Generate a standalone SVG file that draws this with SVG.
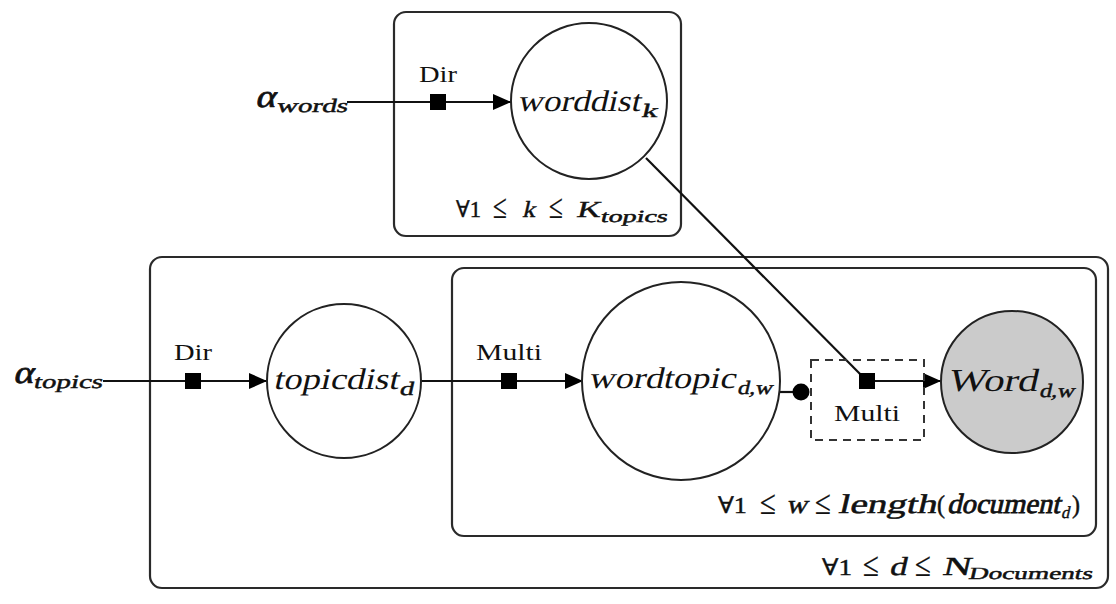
<svg xmlns="http://www.w3.org/2000/svg" width="1116" height="604" viewBox="0 0 1116 604">
<style>
.plate{fill:none;stroke:#2a2a2a;stroke-width:2.2}
.node{fill:#fff;stroke:#222;stroke-width:2}
.obs{fill:#cbcbcb;stroke:#222;stroke-width:2}
.edge{fill:none;stroke:#111;stroke-width:2.2}
.fac{fill:#000}
.gate{fill:none;stroke:#333;stroke-width:2;stroke-dasharray:8 6}
text{font-family:"Liberation Serif","DejaVu Serif",serif;fill:#111}
.m{font-size:30px}
.s{font-size:19px;stroke:#111;stroke-width:0.45}
.r{font-size:24px;text-anchor:middle}
.p{font-size:23px;stroke:#111;stroke-width:0.4}
.q{font-size:23px;stroke:#111;stroke-width:0.4}
.le{font-size:34px;stroke:#111;stroke-width:0.2}
.w{font-size:26px;stroke:#111;stroke-width:0.5}
.ps{font-size:17px;stroke:#111;stroke-width:0.45}
.a{font-size:32px;stroke:#111;stroke-width:0.7}
</style>
<defs>
<marker id="arr" viewBox="0 0 18 16" refX="18" refY="8" markerWidth="18" markerHeight="16" orient="auto" markerUnits="userSpaceOnUse">
<path d="M0,0 L18,8 L0,16 z" fill="#000"/>
</marker>
</defs>

<g id="plate-topics">
<rect class="plate" x="394" y="12" width="287" height="224" rx="12"/>
<text class="q" x="456" y="217" textLength="25" lengthAdjust="spacingAndGlyphs">∀1</text>
<text class="le" x="493" y="218" textLength="14" lengthAdjust="spacingAndGlyphs">≤</text>
<text class="p" transform="translate(522,217) skewX(-13)" textLength="13" lengthAdjust="spacingAndGlyphs">k</text>
<text class="le" x="549" y="218" textLength="14" lengthAdjust="spacingAndGlyphs">≤</text>
<text class="p" transform="translate(576,217) skewX(-13)" textLength="24" lengthAdjust="spacingAndGlyphs">K</text>
<text class="ps" transform="translate(600,222) skewX(-13)" textLength="67" lengthAdjust="spacingAndGlyphs">topics</text>
</g>

<g id="plate-documents">
<rect class="plate" x="150" y="257" width="958" height="331" rx="12"/>
<text class="q" x="822" y="575" textLength="30" lengthAdjust="spacingAndGlyphs">∀1</text>
<text class="le" x="863" y="576" textLength="16" lengthAdjust="spacingAndGlyphs">≤</text>
<text class="w" transform="translate(889,575) skewX(-13)" textLength="17" lengthAdjust="spacingAndGlyphs">d</text>
<text class="le" x="915" y="576" textLength="16" lengthAdjust="spacingAndGlyphs">≤</text>
<text class="w" transform="translate(942,575) skewX(-13)" textLength="28" lengthAdjust="spacingAndGlyphs">N</text>
<text class="ps" transform="translate(968,579) skewX(-13)" textLength="124" lengthAdjust="spacingAndGlyphs">Documents</text>
</g>

<g id="plate-words">
<rect class="plate" x="452" y="268" width="644" height="268" rx="12"/>
<text class="q" x="718" y="513" textLength="29" lengthAdjust="spacingAndGlyphs">∀1</text>
<text class="le" x="760" y="514" textLength="16" lengthAdjust="spacingAndGlyphs">≤</text>
<text class="w" transform="translate(786,513) skewX(-13)" textLength="21" lengthAdjust="spacingAndGlyphs">w</text>
<text class="le" x="815" y="514" textLength="16" lengthAdjust="spacingAndGlyphs">≤</text>
<text class="w" transform="translate(838,513) skewX(-13)" style="font-size:27px" textLength="98" lengthAdjust="spacingAndGlyphs">length</text>
<text class="w" x="937" y="513" textLength="8" lengthAdjust="spacingAndGlyphs">(</text>
<text class="w" transform="translate(947,513) skewX(-13)" style="font-size:28px;stroke-width:0.8" textLength="113" lengthAdjust="spacingAndGlyphs">document</text>
<text class="ps" transform="translate(1061,518) skewX(-13)" textLength="8" lengthAdjust="spacingAndGlyphs">d</text>
<text class="w" x="1072" y="513" textLength="8" lengthAdjust="spacingAndGlyphs">)</text>
</g>

<g id="connectors">
<line class="edge" x1="347" y1="102" x2="511" y2="102" marker-end="url(#arr)"/>
<line class="edge" x1="103" y1="381" x2="267" y2="381" marker-end="url(#arr)"/>
<line class="edge" x1="421" y1="381" x2="583" y2="381" marker-end="url(#arr)"/>
<line class="edge" x1="646" y1="158" x2="867" y2="381"/>
<line class="edge" x1="780" y1="392" x2="800" y2="392"/>
<circle class="fac" cx="801" cy="392" r="8.5"/>
<line class="edge" x1="867" y1="381" x2="941" y2="381" marker-end="url(#arr)"/>
</g>

<g id="alpha-words">
<text class="a" transform="translate(255,107) skewX(-13)" textLength="20" lengthAdjust="spacingAndGlyphs">α</text>
<text class="s" transform="translate(276,112) skewX(-13)" textLength="71" lengthAdjust="spacingAndGlyphs">words</text>
</g>

<g id="alpha-topics">
<text class="a" transform="translate(13,383) skewX(-13)" textLength="20" lengthAdjust="spacingAndGlyphs">α</text>
<text class="s" transform="translate(33,388) skewX(-13)" textLength="69" lengthAdjust="spacingAndGlyphs">topics</text>
</g>

<g id="factor-dir-words">
<rect class="fac" x="430" y="94" width="16" height="16"/>
<text class="r" x="438" y="82" textLength="38" lengthAdjust="spacingAndGlyphs">Dir</text>
</g>

<g id="factor-dir-topics">
<rect class="fac" x="185" y="373" width="16" height="16"/>
<text class="r" x="193" y="360" textLength="38" lengthAdjust="spacingAndGlyphs">Dir</text>
</g>

<g id="factor-multi-topic">
<rect class="fac" x="501" y="373" width="16" height="16"/>
<text class="r" x="509" y="360" textLength="66" lengthAdjust="spacingAndGlyphs">Multi</text>
</g>

<g id="factor-multi-word">
<rect class="gate" x="811" y="360" width="113" height="80"/>
<rect class="fac" x="859" y="373" width="16" height="16"/>
<text class="r" x="867" y="421" textLength="66" lengthAdjust="spacingAndGlyphs">Multi</text>
</g>

<g id="worddist">
<circle class="node" cx="589" cy="101" r="78"/>
<text class="m" transform="translate(517,111) skewX(-13)" textLength="123" lengthAdjust="spacingAndGlyphs">worddist</text>
<text class="s" transform="translate(641,117) skewX(-13)" textLength="16" lengthAdjust="spacingAndGlyphs">k</text>
</g>

<g id="topicdist">
<circle class="node" cx="344" cy="381" r="77"/>
<text class="m" transform="translate(273,389) skewX(-13)" textLength="125" lengthAdjust="spacingAndGlyphs">topicdist</text>
<text class="s" transform="translate(399,395) skewX(-13)" textLength="14" lengthAdjust="spacingAndGlyphs">d</text>
</g>

<g id="wordtopic">
<circle class="node" cx="681" cy="381" r="99"/>
<text class="m" transform="translate(588,388) skewX(-13)" textLength="147" lengthAdjust="spacingAndGlyphs">wordtopic</text>
<text class="s" transform="translate(737,394) skewX(-13)" textLength="35" lengthAdjust="spacingAndGlyphs">d,w</text>
</g>

<g id="word">
<circle class="obs" cx="1012" cy="382" r="71"/>
<text class="m" transform="translate(947,391) skewX(-13)" style="font-size:32px" textLength="90" lengthAdjust="spacingAndGlyphs">Word</text>
<text class="s" transform="translate(1039,397) skewX(-13)" textLength="35" lengthAdjust="spacingAndGlyphs">d,w</text>
</g>
</svg>
